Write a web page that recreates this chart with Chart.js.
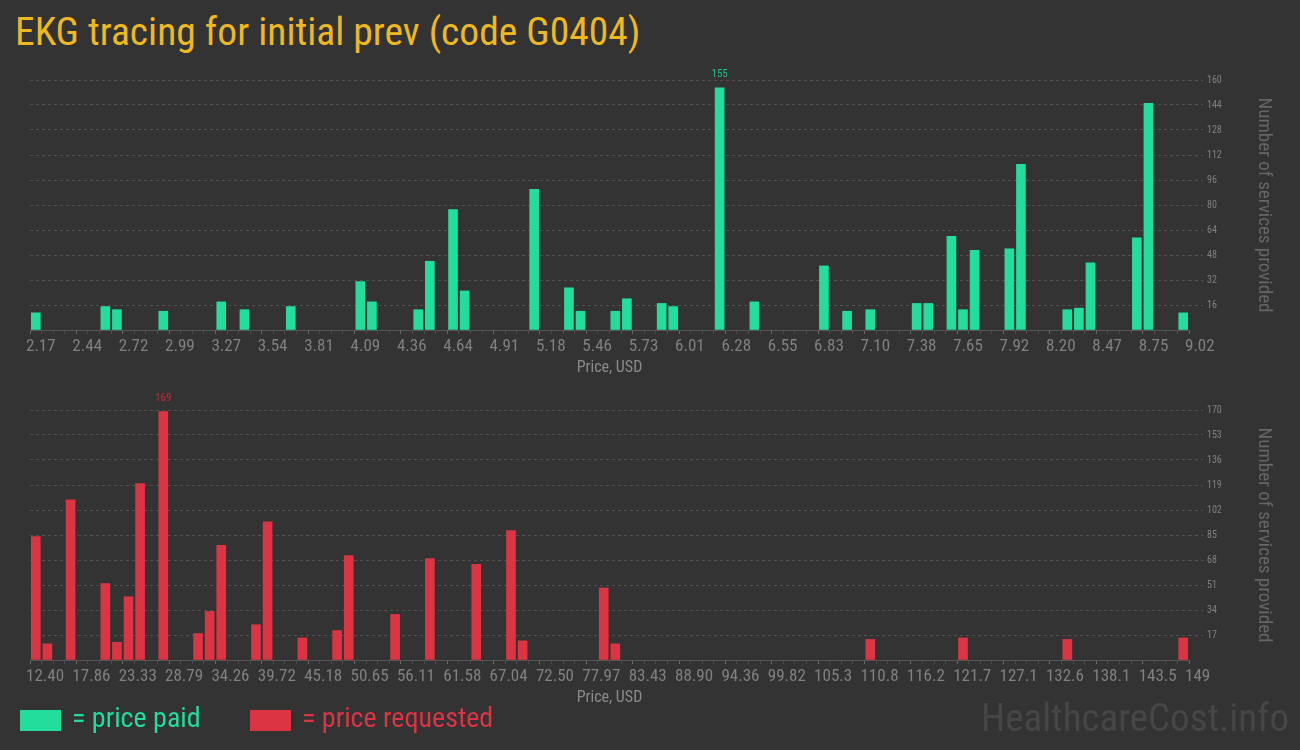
<!DOCTYPE html>
<html>
<head>
<meta charset="utf-8">
<script src="https://cdn.jsdelivr.net/npm/chart.js@4/dist/chart.umd.min.js"></script>
<style>
  body { margin: 0; background: #333; width: 1300px; height: 750px; overflow: hidden; position: relative;
         font-family: 'Roboto Condensed', 'Liberation Sans Narrow', 'DejaVu Sans Condensed', sans-serif; }
  .title { position: absolute; left: 15px; top: 8px; font-size: 39.5px; color: #eeb820; white-space: nowrap; }
  .box { position: absolute; width: 1300px; height: 320px; left: 0; }
  .swatch { position: absolute; top: 710px; width: 41px; height: 21px; }
  .legend-text { position: absolute; top: 701px; font-size: 28px; white-space: nowrap; }
  .brand { position: absolute; left: 981px; top: 695px; font-size: 39px; color: #464646; white-space: nowrap; }
</style>
</head>
<body>
<div class="title">EKG tracing for initial prev (code G0404)</div>
<div class="box" style="top:60px"><canvas id="paid-chart" width="1300" height="320"></canvas></div>
<div class="box" style="top:390px"><canvas id="requested-chart" width="1300" height="320"></canvas></div>
<div class="swatch" style="left:20px;background:#22dd9b"></div>
<div class="legend-text" style="left:72px;color:#22dd9b">= price paid</div>
<div class="swatch" style="left:250px;background:#dd3444"></div>
<div class="legend-text" style="left:302px;color:#dd3444">= price requested</div>
<div class="brand">HealthcareCost.info</div>
<script>
const FONT = "'Roboto Condensed', 'Liberation Sans Narrow', 'DejaVu Sans Condensed', sans-serif";
const GREEN = '#22dd9b';
const RED = '#dd3444';

// price paid: tick labels every 4 bins, 100 bins in total
const paidTicks = ['2.17', '2.44', '2.72', '2.99', '3.27', '3.54', '3.81', '4.09', '4.36', '4.64',
  '4.91', '5.18', '5.46', '5.73', '6.01', '6.28', '6.55', '6.83', '7.10', '7.38',
  '7.65', '7.92', '8.20', '8.47', '8.75', '9.02'];
const paidBins = [0, 6, 7, 11, 16, 18, 22, 28, 29, 33, 34, 36, 37, 43, 46, 47, 50, 51, 54, 55,
  59, 62, 68, 70, 72, 76, 77, 79, 80, 81, 84, 85, 89, 90, 91, 95, 96, 99];
const paidCounts = [11, 15, 13, 12, 18, 13, 15, 31, 18, 13, 44, 77, 25, 90, 27, 12, 12, 20, 17, 15,
  155, 18, 41, 12, 13, 17, 17, 60, 13, 51, 52, 106, 13, 14, 43, 59, 145, 11];

// price requested
const requestedTicks = ['12.40', '17.86', '23.33', '28.79', '34.26', '39.72', '45.18', '50.65', '56.11', '61.58',
  '67.04', '72.50', '77.97', '83.43', '88.90', '94.36', '99.82', '105.3', '110.8', '116.2',
  '121.7', '127.1', '132.6', '138.1', '143.5', '149'];
const requestedBins = [0, 1, 3, 6, 7, 8, 9, 11, 14, 15, 16, 19, 20, 23, 26, 27, 31, 34, 38, 41,
  42, 49, 50, 72, 80, 89, 99];
const requestedCounts = [84, 11, 109, 52, 12, 43, 120, 169, 18, 33, 78, 24, 94, 15, 20, 71, 31, 69, 65, 88,
  13, 49, 11, 14, 15, 14, 15];

const BIN_COUNT = 100;

const maxLabel = {
  id: 'maxLabel',
  afterDatasetsDraw: (chart) => {
    const ds = chart.data.datasets[0];
    const values = ds.data.map(p => p.y);
    const idx = values.indexOf(Math.max(...values));
    const bar = chart.getDatasetMeta(0).data[idx];
    const ctx = chart.ctx;
    ctx.save();
    ctx.font = `11px ${FONT}`;
    ctx.fillStyle = ds.labelColor;
    ctx.textAlign = 'center';
    ctx.textBaseline = 'bottom';
    ctx.fillText(String(values[idx]), bar.x, bar.y - 8);
    ctx.restore();
  }
};

const makeChart = (canvasId, ticks, bins, counts, color, labelColor, yMax, yStep) => {
  const points = bins.map((b, i) => ({ x: b + 0.5, y: counts[i] }));
  new Chart(document.getElementById(canvasId), {
    type: 'bar',
    data: {
      datasets: [{
        data: points,
        backgroundColor: color,
        labelColor: labelColor,
        barThickness: 9
      }]
    },
    options: {
      responsive: false,
      animation: false,
      events: [],
      layout: { padding: { left: 30, right: 25, top: 20, bottom: 0 } },
      plugins: { legend: { display: false }, tooltip: { enabled: false } },
      scales: {
        x: {
          type: 'linear',
          min: 0,
          max: BIN_COUNT,
          offset: false,
          afterBuildTicks: (scale) => {
            scale.ticks = Array.from({ length: BIN_COUNT + 1 }, (_, i) => ({ value: i }));
          },
          afterFit: (scale) => { scale.height = 50; },
          grid: {
            offset: false,
            drawOnChartArea: false,
            drawTicks: true,
            tickLength: 4,
            tickColor: (c) => (c.tick && c.tick.value % 4 === 0) ? '#6a6a6a' : '#4c4c4c'
          },
          border: { display: true, color: '#555' },
          ticks: {
            autoSkip: false,
            maxRotation: 0,
            align: 'start',
            labelOffset: -4,
            padding: 3,
            color: '#808080',
            font: { family: FONT, size: 17 },
            callback: (v) => v % 4 === 0 ? ticks[v / 4] : ''
          },
          title: {
            display: true,
            text: 'Price, USD',
            color: '#8a8a8a',
            font: { family: FONT, size: 16 },
            padding: { top: 0, bottom: 2 }
          }
        },
        y: {
          position: 'right',
          min: 0,
          max: yMax,
          afterFit: (scale) => { scale.width = 86; },
          grid: {
            color: (c) => c.tick.value === 0 ? 'rgba(0,0,0,0)' : '#505050',
            tickColor: (c) => c.tick.value === 0 ? 'rgba(0,0,0,0)' : '#505050',
            tickBorderDash: [3, 3],
            tickLength: 14,
            drawTicks: true
          },
          border: { display: false, dash: [3, 3] },
          ticks: {
            stepSize: yStep,
            padding: 4,
            color: '#808080',
            font: { family: FONT, size: 10 },
            callback: (v) => v === 0 ? '' : v
          },
          title: {
            display: true,
            text: 'Number of services provided',
            color: '#666',
            font: { family: FONT, size: 19 },
            padding: { top: 0, bottom: 0 }
          }
        }
      }
    },
    plugins: [maxLabel]
  });
};

makeChart('paid-chart', paidTicks, paidBins, paidCounts, GREEN, '#1fbf86', 160, 16);
makeChart('requested-chart', requestedTicks, requestedBins, requestedCounts, RED, '#b8303c', 170, 17);
</script>
</body>
</html>
